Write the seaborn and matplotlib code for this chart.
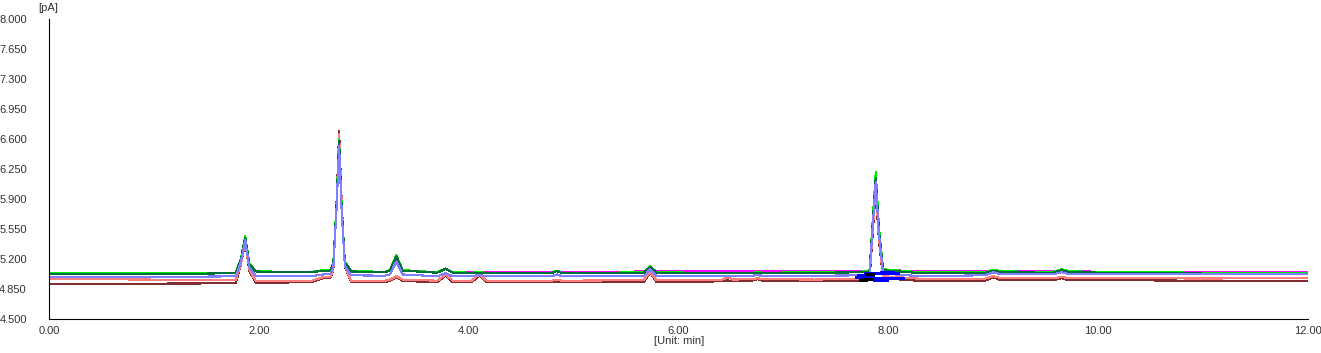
import numpy as np
import pandas as pd
import seaborn as sns
import matplotlib
matplotlib.use("Agg")
import matplotlib.pyplot as plt
from matplotlib.ticker import FixedLocator, FormatStrFormatter

# ---------------- data ----------------
time_min = [0.00, 0.50, 1.00, 1.50, 1.78, 1.83, 1.87, 1.91, 1.97, 2.20,
             2.50, 2.62, 2.68, 2.71, 2.74, 2.765, 2.79, 2.82, 2.88, 3.20,
             3.25, 3.31, 3.37, 3.70, 3.78, 3.85, 4.03, 4.10, 4.17, 4.50,
             4.79, 4.84, 4.89, 5.30, 5.67, 5.73, 5.79, 6.20, 6.42, 6.47,
             6.52, 6.69, 6.75, 6.81, 7.30, 7.82, 7.85, 7.88, 7.91, 7.95,
             8.30, 8.92, 9.00, 9.08, 9.57, 9.65, 9.73, 10.50, 11.00, 11.50,
             12.00]

green = [5.035, 5.035, 5.035, 5.035, 5.040, 5.210, 5.470, 5.150, 5.060, 5.050,
         5.050, 5.070, 5.070, 5.150, 5.830, 6.600, 5.800, 5.170, 5.060, 5.050,
         5.070, 5.245, 5.070, 5.045, 5.090, 5.045, 5.040, 5.045, 5.040, 5.040,
         5.040, 5.065, 5.040, 5.040, 5.045, 5.115, 5.045, 5.040, 5.040, 5.040,
         5.040, 5.040, 5.045, 5.040, 5.045, 5.055, 5.630, 6.210, 5.580, 5.080,
         5.045, 5.045, 5.075, 5.055, 5.050, 5.080, 5.055, 5.045, 5.040, 5.040,
         5.035]

dark_green = [5.030, 5.030, 5.030, 5.030, 5.035, 5.200, 5.450, 5.140, 5.055, 5.045,
              5.045, 5.065, 5.065, 5.140, 5.810, 6.580, 5.780, 5.160, 5.055, 5.045,
              5.065, 5.230, 5.065, 5.040, 5.085, 5.040, 5.035, 5.040, 5.035, 5.035,
              5.035, 5.060, 5.035, 5.035, 5.040, 5.110, 5.040, 5.035, 5.035, 5.035,
              5.035, 5.035, 5.040, 5.035, 5.040, 5.045, 5.600, 6.150, 5.540, 5.070,
              5.035, 5.035, 5.065, 5.045, 5.040, 5.070, 5.045, 5.035, 5.030, 5.030,
              5.030]

magenta = [5.030, 5.030, 5.030, 5.032, 5.038, 5.190, 5.440, 5.140, 5.055, 5.048,
           5.048, 5.068, 5.068, 5.140, 5.790, 6.550, 5.760, 5.160, 5.058, 5.050,
           5.068, 5.220, 5.068, 5.045, 5.085, 5.045, 5.045, 5.045, 5.045, 5.045,
           5.045, 5.060, 5.045, 5.052, 5.054, 5.105, 5.054, 5.054, 5.054, 5.054,
           5.054, 5.054, 5.056, 5.054, 5.054, 5.058, 5.610, 6.170, 5.560, 5.075,
           5.054, 5.054, 5.070, 5.054, 5.054, 5.075, 5.054, 5.052, 5.050, 5.050,
           5.048]

light_blue = [4.990, 4.990, 4.992, 4.995, 4.998, 5.170, 5.420, 5.100, 5.005, 5.000,
              5.000, 5.020, 5.020, 5.100, 5.770, 6.520, 5.740, 5.120, 5.010, 5.005,
              5.020, 5.170, 5.020, 4.998, 5.035, 4.998, 4.998, 5.015, 4.998, 4.998,
              4.998, 5.020, 4.998, 4.998, 5.000, 5.080, 5.000, 5.002, 5.005, 5.005,
              5.005, 5.005, 5.010, 5.005, 5.005, 5.010, 5.560, 6.100, 5.500, 5.030,
              5.000, 5.010, 5.045, 5.020, 5.020, 5.045, 5.022, 5.022, 5.025, 5.025,
              5.025]

salmon = [4.963, 4.963, 4.960, 4.955, 4.950, 5.150, 5.400, 5.080, 4.945, 4.940,
          4.945, 4.990, 4.985, 5.080, 5.820, 6.660, 5.840, 5.120, 4.945, 4.945,
          4.960, 5.000, 4.960, 4.947, 5.020, 4.947, 4.947, 5.020, 4.947, 4.947,
          4.947, 4.960, 4.947, 4.950, 4.955, 5.050, 4.955, 4.955, 4.960, 4.985,
          4.960, 4.965, 4.975, 4.965, 4.960, 4.970, 5.520, 6.050, 5.450, 5.000,
          4.970, 4.970, 5.000, 4.975, 4.975, 4.990, 4.975, 4.975, 4.972, 4.975,
          4.975]

dark_red = [4.912, 4.912, 4.913, 4.915, 4.918, 5.140, 5.400, 5.060, 4.925, 4.925,
            4.930, 4.980, 4.975, 5.070, 5.840, 6.690, 5.860, 5.110, 4.930, 4.928,
            4.945, 4.990, 4.945, 4.928, 5.010, 4.928, 4.928, 5.010, 4.928, 4.928,
            4.928, 4.940, 4.928, 4.930, 4.935, 5.040, 4.935, 4.935, 4.940, 4.950,
            4.940, 4.945, 4.965, 4.945, 4.945, 4.950, 5.480, 6.000, 5.420, 4.975,
            4.945, 4.945, 4.985, 4.950, 4.950, 4.975, 4.950, 4.950, 4.947, 4.947,
            4.947]

# drawing order (first = bottom)
trace_names = ["dark red", "salmon", "magenta", "green", "dark green", "light blue"]
trace_colors = ["#7f2f2f", "#ff7f7f", "#ff00ff", "#00ee00", "#00703a", "#7f7fff"]

# short baseline marks around the 7.9 min peak (start, end, level)
blue_marks = [(7.70, 7.80, 5.010), (7.77, 8.10, 5.035), (7.68, 7.86, 4.990),
              (7.80, 8.15, 4.975), (7.85, 8.00, 4.955), (7.92, 8.05, 5.045)]
black_marks = [(7.78, 7.86, 5.020), (7.74, 7.84, 4.965), (7.72, 7.80, 4.950)]

y_min, y_max, y_step, y_minor = 4.5, 8.0, 0.35, 0.07
x_min, x_max, x_step, x_minor = 0.0, 12.0, 2.0, 0.4

# ---------------- figure ----------------
sns.set_style("white")
plt.rcParams["font.family"] = ["Liberation Sans", "DejaVu Sans"]

fig = plt.figure(figsize=(13.21, 3.53), dpi=100)
ax = fig.add_axes([49 / 1321, 1 - 319 / 353, (1308 - 49) / 1321, 300 / 353])

series = {"green": green, "dark green": dark_green, "light blue": light_blue,
          "salmon": salmon, "dark red": dark_red, "magenta": magenta}
frames = []
for name in trace_names:
    frames.append(pd.DataFrame({"time": time_min, "signal": series[name], "trace": name}))
df = pd.concat(frames, ignore_index=True)

sns.lineplot(data=df, x="time", y="signal", hue="trace", hue_order=trace_names,
             palette=dict(zip(trace_names, trace_colors)), estimator=None,
             sort=False, linewidth=0.8, legend=False, ax=ax)
for ln in ax.get_lines():
    ln.set_antialiased(False)

ax.hlines([m[2] for m in blue_marks], [m[0] for m in blue_marks],
          [m[1] for m in blue_marks], colors="#0000ff", linewidth=0.8, zorder=5,
          antialiased=False)
ax.hlines([m[2] for m in black_marks], [m[0] for m in black_marks],
          [m[1] for m in black_marks], colors="#000000", linewidth=0.8, zorder=6,
          antialiased=False)

ax.set_xlim(x_min, x_max)
ax.set_ylim(y_min, y_max)
n_y = int(round((y_max - y_min) / y_step))
n_ym = int(round((y_max - y_min) / y_minor))
n_x = int(round((x_max - x_min) / x_step))
n_xm = int(round((x_max - x_min) / x_minor))
ax.yaxis.set_major_locator(FixedLocator([y_min + i * y_step for i in range(n_y + 1)]))
ax.yaxis.set_minor_locator(FixedLocator([y_min + i * y_minor for i in range(n_ym + 1)]))
ax.xaxis.set_major_locator(FixedLocator([x_min + i * x_step for i in range(n_x + 1)]))
ax.xaxis.set_minor_locator(FixedLocator([x_min + i * x_minor for i in range(n_xm + 1)]))
ax.xaxis.set_major_formatter(FormatStrFormatter("%.2f"))
ax.yaxis.set_major_formatter(FormatStrFormatter("%.3f"))

for s in ["top", "right"]:
    ax.spines[s].set_visible(False)
for s in ["left", "bottom"]:
    ax.spines[s].set_color("black")
    ax.spines[s].set_linewidth(0.8)

ax.tick_params(axis="x", which="major", direction="out", length=3.8, width=0.8,
               color="black", labelsize=8, labelcolor="#333333", pad=1)
ax.tick_params(axis="x", which="minor", direction="out", length=2.2, width=0.8,
               color="black")
ax.tick_params(axis="y", which="major", direction="out", length=3.0, width=0.8,
               color="black", labelsize=8, labelcolor="#333333", pad=13)
ax.tick_params(axis="y", which="minor", direction="out", length=2.0, width=0.8,
               color="black")
ax.set_xlabel("")
ax.set_ylabel("")
ax.grid(False)

fig.text(48 / 1321, 1 - 8 / 353, "[pA]", ha="center", va="center",
         fontsize=8, color="#333333")
fig.text(679 / 1321, 1 - 341 / 353, "[Unit: min]", ha="center", va="center",
         fontsize=8, color="#333333")

fig.savefig("out.png", dpi=100, facecolor="white")
